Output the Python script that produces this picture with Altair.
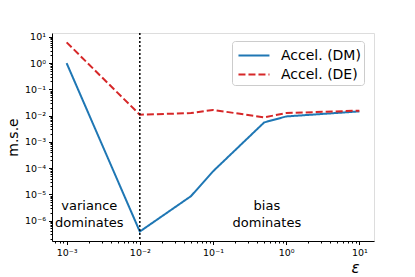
import altair as alt
import pandas as pd

# ---- data ----
eps = [0.001, 0.01, 0.05, 0.1, 0.5, 1.0, 10.0]
mse_dm = [1.0, 3.8e-7, 8.5e-6, 7.5e-5, 0.0055, 0.0093, 0.0145]
mse_de = [6.2, 0.0108, 0.0125, 0.0165, 0.0086, 0.0125, 0.0155]
series_names = ["Accel. (DM)", "Accel. (DE)"]
split_eps = [0.01]
ann_x = [0.00204, 0.545]
ann_y = [3.5e-6, 3.5e-6]
ann_text = ["variance\ndominates", "bias\ndominates"]

x_major = [1e-3, 1e-2, 1e-1, 1e0, 1e1]
y_major = [1e-6, 1e-5, 1e-4, 1e-3, 1e-2, 1e-1, 1e0, 1e1]
x_minor = [m * 10.0 ** e for e in range(-4, 2) for m in range(2, 10)]
y_minor = [m * 10.0 ** e for e in range(-7, 2) for m in range(2, 10)]

xdom = [10 ** -3.2, 10 ** 1.2]
ydom = [10 ** -6.78, 10 ** 1.15]

rows = []
for name, vals in zip(series_names, [mse_dm, mse_de]):
    for e, v in zip(eps, vals):
        rows.append({"eps": e, "mse": v, "series": name})
df = pd.DataFrame(rows)
df_split = pd.DataFrame({"eps": split_eps})
df_ann = pd.DataFrame({"x": ann_x, "y": ann_y, "t": ann_text})

FONT = "DejaVu Sans"
label_expr = ("'10' + (datum.value < 0.99 ? '⁻' : '') + "
              "['⁰','¹','²','³','⁴','⁵','⁶','⁷'][abs(round(log(datum.value)/LN10))]")

xscale = alt.Scale(type="log", domain=xdom, nice=False, zero=False)
yscale = alt.Scale(type="log", domain=ydom, nice=False, zero=False)

x_axis = alt.Axis(values=x_major, labelExpr=label_expr, grid=False, tickSize=3.5,
                  tickColor="black", domainColor="black", labelColor="black",
                  labelFont=FONT, labelFontSize=9.5, labelPadding=3, labelFlush=False,
                  title="ε", titleFont=FONT, titleFontSize=15, titleFontStyle="italic",
                  titleFontWeight="normal", titleX=303, titleY=31, titleAlign="center",
                  titleBaseline="alphabetic", titleColor="black", orient="bottom")
y_axis = alt.Axis(values=y_major, labelExpr=label_expr, grid=False, tickSize=3.5,
                  tickColor="black", domainColor="black", labelColor="black",
                  labelFont=FONT, labelFontSize=9.5, labelPadding=3, labelFlush=False,
                  title="m.s.e", titleFont=FONT, titleFontSize=14, titleFontWeight="normal",
                  titleX=-34.5, titleY=104, titleAngle=-90, titleAlign="center",
                  titleBaseline="alphabetic", titleColor="black", orient="left")

legend_kw = dict(title=None, orient="none", legendX=180, legendY=8,
                 symbolType="M-0.78,0H2.23", symbolSize=424, symbolStrokeWidth=2,
                 labelFont=FONT, labelFontSize=14, labelColor="black",
                 labelOffset=23, rowPadding=0, padding=3,
                 strokeColor="#cccccc", fillColor="white", cornerRadius=3)

lines = alt.Chart(df).mark_line(strokeWidth=2, clip=True).encode(
    x=alt.X("eps:Q", scale=xscale, axis=x_axis),
    y=alt.Y("mse:Q", scale=yscale, axis=y_axis),
    color=alt.Color("series:N", sort=series_names,
                    scale=alt.Scale(domain=series_names, range=["#1f77b4", "#d62728"]),
                    legend=alt.Legend(**legend_kw)),
    strokeDash=alt.StrokeDash("series:N", sort=series_names,
                              scale=alt.Scale(domain=series_names, range=[[1, 0], [7, 3]]),
                              legend=alt.Legend(**legend_kw)),
    detail="series:N",
)

vline = alt.Chart(df_split).mark_rule(color="black", strokeWidth=1.5, strokeDash=[2, 2]).encode(
    x=alt.X("eps:Q", scale=xscale, axis=None)
)

ann = alt.Chart(df_ann).mark_text(font=FONT, fontSize=13, lineBreak="\n", lineHeight=17,
                                  align="center", baseline="middle", color="black").encode(
    x=alt.X("x:Q", scale=xscale, axis=None),
    y=alt.Y("y:Q", scale=yscale, axis=None),
    text="t:N",
)

minor = alt.Chart(df).mark_point(opacity=0).encode(
    x=alt.X("eps:Q", scale=xscale,
            axis=alt.Axis(values=x_minor, labels=False, domain=False, grid=False, tickSize=2,
                          tickColor="black", title=None, orient="bottom")),
    y=alt.Y("mse:Q", scale=yscale,
            axis=alt.Axis(values=y_minor, labels=False, domain=False, grid=False, tickSize=2,
                          tickColor="black", title=None, orient="left")),
)

chart = alt.layer(lines, vline, ann, minor).resolve_axis(
    x="independent", y="independent"
).properties(
    width=322, height=208,
    autosize=alt.AutoSizeParams(type="none"),
    padding={"left": 44, "top": 25, "right": 10, "bottom": 36},
).configure_view(stroke="black", strokeWidth=1).configure(background="white")

chart.save("out.html", embed_options={"renderer": "svg", "actions": False})
